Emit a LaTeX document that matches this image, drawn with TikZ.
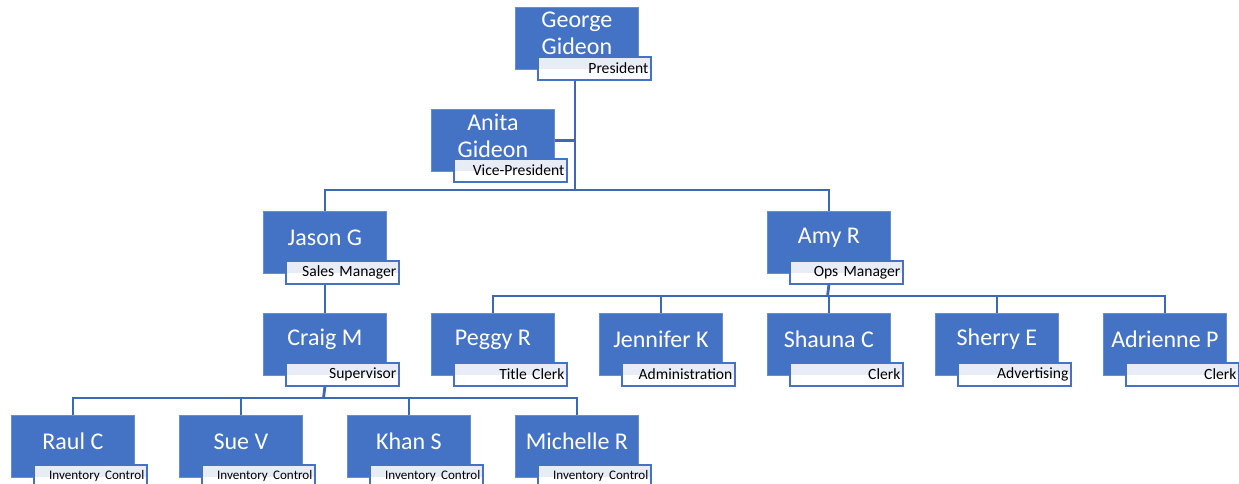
\documentclass[tikz,border=0pt]{standalone}
\usepackage{fontspec}
\setmainfont{Carlito}
\usetikzlibrary{calc,backgrounds}
\definecolor{obl}{HTML}{4472C4}
\definecolor{connc}{HTML}{3D67B9}
\definecolor{lightlab}{HTML}{E8ECF6}
\tikzset{
 pbox/.style={rectangle, fill=obl, draw=obl!80!white, line width=0.8pt, minimum width=123pt, minimum height=62pt, inner sep=0pt, anchor=north west},
 ptitle/.style={rectangle, fill=white, draw=obl, line width=1.8pt, minimum width=113pt, minimum height=23pt, text width=108pt, inner xsep=2.5pt, inner ysep=0pt, align=right, font=\fontsize{15.6}{17}\selectfont, anchor=north west, path picture={\fill[lightlab] (path picture bounding box.north west) rectangle ([yshift=-1pt]path picture bounding box.east);}},
 pname/.style={text=white, align=center, font=\fontsize{24}{27}\selectfont, inner sep=0pt},
 conn/.style={draw=connc, line width=2.8pt}
}
\newcommand\emp[5]{%
 \node[pbox] (#1) at (#2,#3) {};
 \node[pname] (#1n) at ($(#1.north)+(0,26.5)$) {#4};
 \node[ptitle] (#1l) at ($(#1.north west)+(22,49)$) {#5};
}
\newcommand\invc{{\fontsize{13.1}{15}\selectfont Inventory Control}}
\begin{document}
\begin{tikzpicture}[x=1pt,y=-1pt]
\useasboundingbox (0,0) rectangle (1239,484);
\emp{george}{515}{7}{George\\Gideon}{President}
\emp{anita}{431}{109}{Anita\\Gideon}{Vice-President}
\emp{jason}{263}{211}{Jason G}{Sales Manager}
\emp{amy}{767}{211}{Amy R}{Ops Manager}
\emp{craig}{263}{313}{Craig M}{Supervisor}
\emp{peggy}{431}{313}{Peggy R}{Title Clerk}
\emp{jennifer}{599}{313}{Jennifer K}{Administration}
\emp{shauna}{767}{313}{Shauna C}{Clerk}
\emp{sherry}{935}{313}{Sherry E}{Advertising}
\emp{adrienne}{1103}{313}{Adrienne P}{Clerk}
\emp{raul}{11}{415}{Raul C}{\invc}
\emp{sue}{179}{415}{Sue V}{\invc}
\emp{khan}{347}{415}{Khan S}{\invc}
\emp{michelle}{515}{415}{Michelle R}{\invc}
\coordinate (b1) at (575,190);
\coordinate (b2) at (323.5,398);
\coordinate (b3) at (827.5,296);
\begin{scope}[on background layer]
\draw[conn] (b1 |- georgel.south) -- (b1);
\draw[conn] (anita.east) -- (anita.east -| b1);
\draw[conn] (jason.north) |- (b1) -| (amy.north);
\draw[conn] (jason.south |- jasonl.south) -- (craig.north);
\draw[conn] (craig.south |- craigl.south) -- (b2);
\draw[conn] (raul.north) |- (b2) -| (michelle.north);
\draw[conn] (sue.north) -- (sue.north |- b2);
\draw[conn] (khan.north) -- (khan.north |- b2);
\draw[conn] (amy.south |- amyl.south) -- (b3);
\draw[conn] (peggy.north) |- (b3) -| (adrienne.north);
\draw[conn] (jennifer.north) -- (jennifer.north |- b3);
\draw[conn] (shauna.north) -- (shauna.north |- b3);
\draw[conn] (sherry.north) -- (sherry.north |- b3);
\end{scope}
\end{tikzpicture}
\end{document}
